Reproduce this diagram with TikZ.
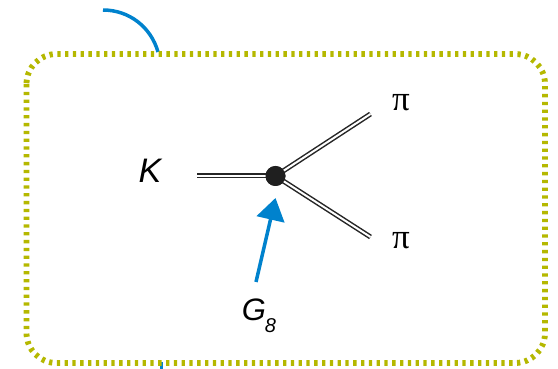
\documentclass[tikz,border=0pt]{standalone}
\usepackage{fontspec}
\setmainfont{Liberation Sans}
\newfontfamily\serifpi{Liberation Serif}
\usetikzlibrary{arrows.meta}
\definecolor{boxolive}{RGB}{181,184,0}
\definecolor{gluonblue}{RGB}{0,130,205}
\begin{document}
\begin{tikzpicture}[x=1pt,y=-1pt,
  dblline/.style={double=white,line width=1.5pt,double distance=2pt,draw=black!85},
  bluestroke/.style={draw=gluonblue,line width=3.5pt},
  lbl/.style={inner sep=0pt,anchor=center}]
\useasboundingbox (0,0) rectangle (558,369);
% blue arc above box
\draw[bluestroke] (103,10) .. controls (129,10) and (151,27) .. (158,52);
\draw[bluestroke] (161.5,362) -- (161.5,369);
% dotted box
\draw[boxolive,line width=5.8pt,dash pattern=on 3.3pt off 4.5pt,rounded corners=30pt]
  (26.5,54) rectangle (545,363);
% vertex
\node[circle,fill=black!88,minimum size=20pt,inner sep=0pt] (v) at (275.5,176) {};
\coordinate (kin) at (197,176);
\coordinate (p1) at (370.5,114);
\coordinate (p2) at (370.5,237);
\draw[dblline] (kin) -- (v.center);
\draw[dblline] (v.center) -- (p1);
\draw[dblline] (v.center) -- (p2);
\node[circle,fill=black!88,minimum size=20pt,inner sep=0pt] at (v) {};
% blue arrow
\coordinate (gtail) at (256,282);
\coordinate (gtip) at (275.5,198);
\draw[gluonblue,line width=3.5pt,-{Triangle[length=22pt,width=28pt]}] (gtail) -- (gtip);
% labels
\node[lbl,font=\fontsize{34}{34}\selectfont\itshape] (K) at (150,171) {K};
\node[lbl,font=\fontsize{35}{35}\selectfont\serifpi] (pi1) at (401,103) {π};
\node[lbl,font=\fontsize{35}{35}\selectfont\serifpi] (pi2) at (401,241) {π};
\node[lbl,font=\fontsize{31}{31}\selectfont\itshape] (G) at (254,310) {G};
\node[lbl,font=\fontsize{20}{20}\selectfont\itshape] (g8) at (270.5,326) {8};
\end{tikzpicture}
\end{document}
